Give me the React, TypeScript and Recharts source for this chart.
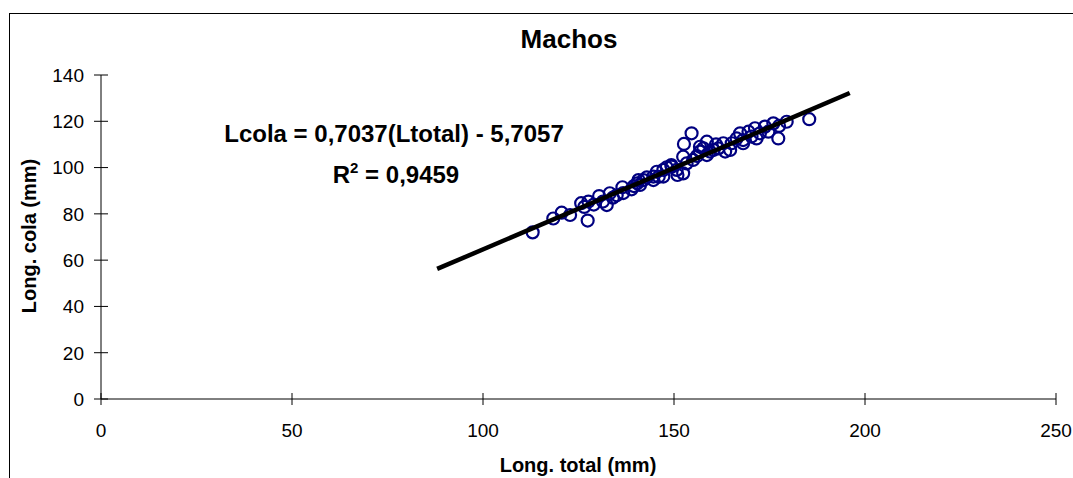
import { ScatterChart, Scatter, XAxis, YAxis } from 'recharts';

// Longitud total vs longitud de cola (machos)
const longTotal = [
  113, 118.4, 120.6, 122.8, 125.7, 126.5, 127.4, 127.6, 129, 130.4, 131.4, 132.4, 133.2, 134, 135,
  136.5, 136.7, 138.9, 139.5, 140.4, 140.7, 141.1, 142, 142.9, 144.6, 144.6, 145.5, 146, 147.2, 147.2,
  148.1, 149.3, 149.4, 150.7, 150.9, 152.4, 152.4, 152.6, 153.3, 154.6, 155, 156, 156.8, 156.8, 157.7,
  158.6, 158.6, 159.4, 160.3, 161, 161.6, 162.9, 163.4, 164.7, 165.1, 166.4, 167.3, 168.1, 168.1, 169.5,
  170.3, 171.2, 171.6, 172.5, 173.8, 174.7, 176, 177.3, 177.5, 179.5, 185.4,
];
const longCola = [
  72, 78, 80.5, 79.5, 84.6, 83, 77.1, 85.3, 84, 87.7, 85.3, 83.8, 88.9, 87, 88,
  91.5, 89, 90.6, 92, 93.2, 94.6, 92.5, 94.6, 95.8, 94.6, 96.1, 98.2, 96, 96.1, 99,
  100.1, 101.1, 100.4, 99, 96.8, 97.5, 104.7, 110.2, 101.8, 114.8, 103.3, 105, 106.9, 109, 108.3,
  105.4, 111.2, 106.9, 107.6, 110, 108.3, 110.5, 106.9, 107.6, 110.5, 112.6, 114.8, 111.9, 110.5, 115.5,
  113.4, 117, 112.6, 114.8, 117.7, 115.5, 119.1, 112.6, 118, 119.8, 120.9,
];

// extremos de la línea de tendencia
const trendX = [88, 196];
const trendY = [56.2, 132.2];

const xTicks = [0, 50, 100, 150, 200, 250];
const yTicks = [0, 20, 40, 60, 80, 100, 120, 140];

const points = longTotal.map((x, i) => ({ x, y: longCola[i] }));
const trend = trendX.map((x, i) => ({ x, y: trendY[i] }));

const FONT = '"Liberation Sans", Arial, sans-serif';

const YTick = (props: any) => {
  const { x, y, payload } = props;
  return (
    <g>
      <line x1={x - 7} x2={x + 7} y1={y} y2={y} stroke="#000" strokeWidth={1} />
      <text x={x - 17} y={y} dy="0.36em" textAnchor="end" fontSize={19} fontFamily={FONT} fill="#000">
        {payload.value}
      </text>
    </g>
  );
};

const XTick = (props: any) => {
  const { x, y, payload } = props;
  return (
    <g>
      <line x1={x} x2={x} y1={y - 6} y2={y + 6} stroke="#000" strokeWidth={1} />
      <text x={x} y={y + 38} textAnchor="middle" fontSize={19} fontFamily={FONT} fill="#000">
        {payload.value}
      </text>
    </g>
  );
};

const Ring = (props: any) => (
  <circle cx={props.cx} cy={props.cy} r={6} fill="none" stroke="#000080" strokeWidth={2.2} />
);

const App = () => {
  return (
    <div style={{ position: 'fixed', left: 0, top: 0, width: 1073, height: 478, overflow: 'hidden', background: '#fff' }}>
      <div
        style={{
          position: 'absolute',
          left: 9,
          top: 13,
          right: -20,
          bottom: -20,
          borderTop: '1px solid #000',
          borderLeft: '1px solid #000',
        }}
      />
      <div style={{ position: 'absolute', left: 0, top: 0 }}>
        <ScatterChart width={1073} height={478} margin={{ top: 75, right: 17, bottom: 49, left: 41 }}>
          <XAxis
            type="number"
            dataKey="x"
            domain={[0, 250]}
            ticks={xTicks}
            tickSize={0}
            tickMargin={0}
            tickLine={false}
            axisLine={{ stroke: '#000', strokeWidth: 1 }}
            tick={XTick}
            height={30}
          />
          <YAxis
            type="number"
            dataKey="y"
            domain={[0, 140]}
            ticks={yTicks}
            tickSize={0}
            tickMargin={0}
            tickLine={false}
            axisLine={{ stroke: '#000', strokeWidth: 1 }}
            tick={YTick}
            width={60}
          />
          <Scatter data={points} shape={Ring} isAnimationActive={false} />
          <Scatter
            data={trend}
            line={{ stroke: '#000', strokeWidth: 4.5 }}
            shape={() => <g />}
            isAnimationActive={false}
          />
        </ScatterChart>
      </div>
      <svg
        width={1073}
        height={478}
        style={{ position: 'absolute', left: 0, top: 0, pointerEvents: 'none' }}
        fontFamily={FONT}
        fontWeight="bold"
        fill="#000"
      >
        <text x={569} y={48} textAnchor="middle" fontSize={26}>
          Machos
        </text>
        <text x={394} y={142} textAnchor="middle" fontSize={24}>
          Lcola = 0,7037(Ltotal) - 5,7057
        </text>
        <text x={396} y={183} textAnchor="middle" fontSize={24}>
          R<tspan fontSize={15} dy={-10}>2</tspan>
          <tspan dy={10}> = 0,9459</tspan>
        </text>
        <text x={578} y={472} textAnchor="middle" fontSize={20}>
          Long. total (mm)
        </text>
        <text transform="translate(36,236) rotate(-90)" textAnchor="middle" fontSize={20}>
          Long. cola (mm)
        </text>
      </svg>
    </div>
  );
};

export default App;
